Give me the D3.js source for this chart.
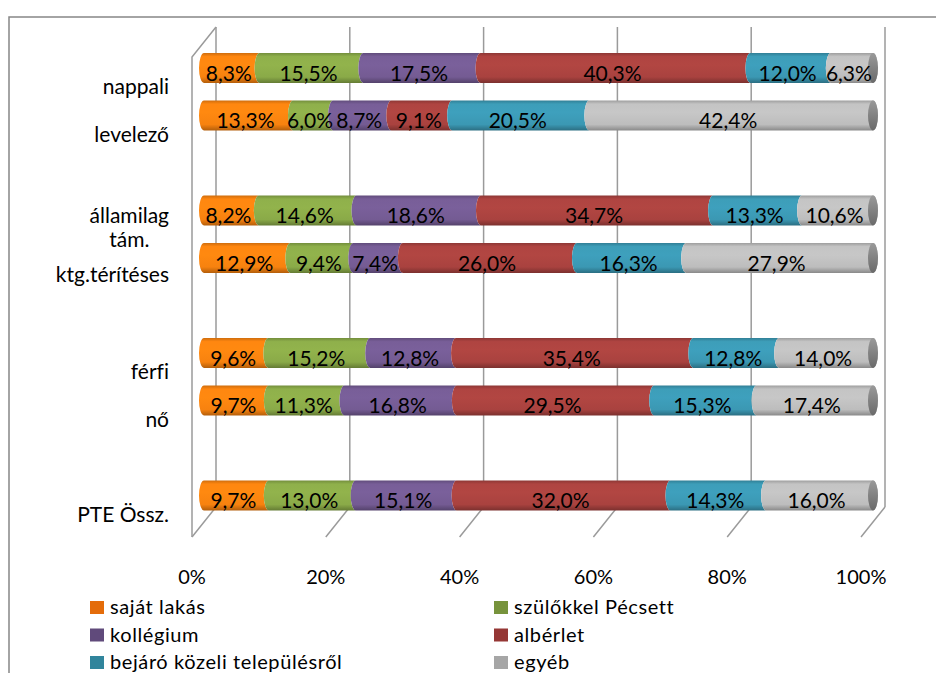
<!DOCTYPE html>
<html>
<head>
<meta charset="utf-8">
<script src="https://cdn.jsdelivr.net/npm/d3@7"></script>
<style>
  body { margin: 0; background: #fff; }
  svg { display: block; font-family: Lato, "Open Sans", sans-serif; font-variant-ligatures: none; }
</style>
</head>
<body>
<script>
// categories (empty strings are the gaps between the groups)
const categories = ["nappali", "levelező", "", "államilag tám.", "ktg.térítéses", "", "férfi", "nő", "", "PTE Össz."];

const seriesNames = ["saját lakás", "szülőkkel Pécsett", "kollégium", "albérlet", "bejáró közeli településről", "egyéb"];

const sajatLakas = [8.3, 13.3, null, 8.2, 12.9, null, 9.6, 9.7, null, 9.7];
const szulokkel  = [15.5, 6.0, null, 14.6, 9.4, null, 15.2, 11.3, null, 13.0];
const kollegium  = [17.5, 8.7, null, 18.6, 7.4, null, 12.8, 16.8, null, 15.1];
const alberlet   = [40.3, 9.1, null, 34.7, 26.0, null, 35.4, 29.5, null, 32.0];
const bejaro     = [12.0, 20.5, null, 13.3, 16.3, null, 12.8, 15.3, null, 14.3];
const egyeb      = [6.3, 42.4, null, 10.6, 27.9, null, 14.0, 17.4, null, 16.0];

const tickValues = [0, 20, 40, 60, 80, 100];

const seriesValues = [sajatLakas, szulokkel, kollegium, alberlet, bejaro, egyeb];
const legendColors = ["#e46c0a", "#77933c", "#604a7b", "#953735", "#31859c", "#a6a6a6"];
const barColors = ["#f7820f", "#8aaa48", "#745b93", "#a9423f", "#3b98b3", "#bdbdbd"];

const w = 936, h = 673;
const depth = { dx: 12, dy: 15 };
const wallTop = 42, wallBottom = 522;
const barH = 30, rx = 5;

const huLocale = d3.formatLocale({ decimal: ",", thousands: " ", grouping: [3], currency: ["", " Ft"] });
const pct = (v) => huLocale.format(".1f")(v) + "%";

const x = d3.scaleLinear().domain([0, 100]).range([204, 873]);
const y = d3.scalePoint().domain(d3.range(categories.length)).range([68, 495.5]);

const svg = d3.select("body").append("svg")
  .attr("width", w)
  .attr("height", h);

svg.append("rect").attr("width", w).attr("height", h).attr("fill", "#fff");

// chart area frame
svg.append("path")
  .attr("d", `M9,${h} V17 H${w}`)
  .attr("fill", "none")
  .attr("stroke", "#868686")
  .attr("stroke-width", 1.5);

// gradients for the cylinders
const defs = svg.append("defs");
barColors.forEach((c, i) => {
  const g = defs.append("linearGradient")
    .attr("id", `grad${i}`)
    .attr("x1", 0).attr("y1", 0).attr("x2", 0).attr("y2", 1);
  g.append("stop").attr("offset", "0%").attr("stop-color", d3.color(c).darker(0.5));
  g.append("stop").attr("offset", "12%").attr("stop-color", d3.color(c).brighter(0.1));
  g.append("stop").attr("offset", "40%").attr("stop-color", d3.color(c).brighter(0.15));
  g.append("stop").attr("offset", "80%").attr("stop-color", c);
  g.append("stop").attr("offset", "100%").attr("stop-color", d3.color(c).darker(0.9));
});
const capGrad = defs.append("linearGradient")
  .attr("id", "capGrad")
  .attr("x1", 0).attr("y1", 0).attr("x2", 0).attr("y2", 1);
capGrad.append("stop").attr("offset", "0%").attr("stop-color", "#9a9a9a");
capGrad.append("stop").attr("offset", "100%").attr("stop-color", "#6a6a6a");

// walls + gridlines
const grid = svg.append("g")
  .attr("stroke", "#9a9a9a")
  .attr("stroke-width", 1.5)
  .attr("fill", "none");

grid.selectAll(".back")
  .data(tickValues)
  .join("line")
  .attr("x1", d => x(d) + depth.dx).attr("x2", d => x(d) + depth.dx)
  .attr("y1", wallTop - depth.dy).attr("y2", wallBottom - depth.dy);

grid.selectAll(".floor")
  .data(tickValues)
  .join("line")
  .attr("x1", d => x(d) + depth.dx).attr("y1", wallBottom - depth.dy)
  .attr("x2", d => x(d) - depth.dx).attr("y2", wallBottom + depth.dy);

grid.append("path")
  .attr("d", `M${x(0) + depth.dx},${wallTop - depth.dy} L${x(0) - depth.dx},${wallTop + depth.dy} V${wallBottom + depth.dy}`);

// stacked data
const rows = categories.map((c, i) => {
  const vals = seriesValues.map(s => s[i]);
  return { index: i, name: c, vals, total: d3.sum(vals) };
}).filter(r => r.vals.every(v => v != null));

const bars = svg.append("g")
  .selectAll("g")
  .data(rows)
  .join("g");

const segPath = (a, b, cy, last) => {
  const top = cy - barH / 2, bot = cy + barH / 2, ry = barH / 2;
  return `M${a},${top} A${rx},${ry} 0 0 0 ${a},${bot} L${b},${bot} A${rx},${ry} 0 0 ${last ? 0 : 1} ${b},${top} Z`;
};

bars.each(function (r) {
  const g = d3.select(this);
  const cy = y(r.index);
  let acc = 0;
  const segs = r.vals.map((v, k) => {
    const s = { k, v, x0: acc / r.total * 100, x1: (acc + v) / r.total * 100 };
    acc += v;
    return s;
  });

  g.selectAll("path.seg")
    .data(segs)
    .join("path")
    .attr("class", "seg")
    .attr("d", s => segPath(x(s.x0), x(s.x1), cy, s.k === segs.length - 1))
    .attr("fill", s => `url(#grad${s.k})`);

  // right end cap
  g.append("ellipse")
    .attr("cx", x(100))
    .attr("cy", cy)
    .attr("rx", rx)
    .attr("ry", barH / 2)
    .attr("fill", "url(#capGrad)");

  g.selectAll("text")
    .data(segs)
    .join("text")
    .attr("x", s => (x(s.x0) + x(s.x1)) / 2 - 3)
    .attr("y", cy + 12.5)
    .attr("text-anchor", "middle")
    .attr("font-size", 21)
    .attr("fill", "#000")
    .text(s => pct(s.v));
});

// category labels (wrap long ones like Excel does)
const labelG = svg.append("g")
  .attr("font-size", 21)
  .attr("fill", "#000");

categories.forEach((c, i) => {
  if (!c) return;
  const t = labelG.append("text")
    .attr("x", 169)
    .attr("text-anchor", "end")
    .text(c);
  if (t.node().getComputedTextLength() > 95) {
    const words = c.split(" ");
    t.text(null).attr("text-anchor", "middle");
    const cx = 169 - d3.max(words, wd => {
      const tmp = labelG.append("text").text(wd);
      const len = tmp.node().getComputedTextLength();
      tmp.remove();
      return len;
    }) / 2;
    words.forEach((wd, j) => {
      t.append("tspan")
        .attr("x", cx)
        .attr("y", y(i) + 24 + (j - (words.length - 1) / 2) * 24)
        .text(wd);
    });
  } else {
    t.attr("y", y(i) + 26);
  }
});

// value axis labels on the front edge
svg.append("g")
  .selectAll("text")
  .data(tickValues)
  .join("text")
  .attr("x", d => x(d) - depth.dx)
  .attr("y", 584)
  .attr("text-anchor", "middle")
  .attr("font-size", 20)
  .text(d => d + "%");

// legend
const legend = svg.append("g")
  .attr("font-size", 20)
  .attr("letter-spacing", 0.6);

const item = legend.selectAll("g")
  .data(seriesNames)
  .join("g")
  .attr("transform", (d, i) => `translate(${i % 2 ? 494 : 90},${601 + Math.floor(i / 2) * 27.5})`);

item.append("rect")
  .attr("width", 14)
  .attr("height", 13)
  .attr("fill", (d, i) => legendColors[i]);

item.append("text")
  .attr("x", 20)
  .attr("y", 13)
  .text(d => d);
</script>
</body>
</html>
